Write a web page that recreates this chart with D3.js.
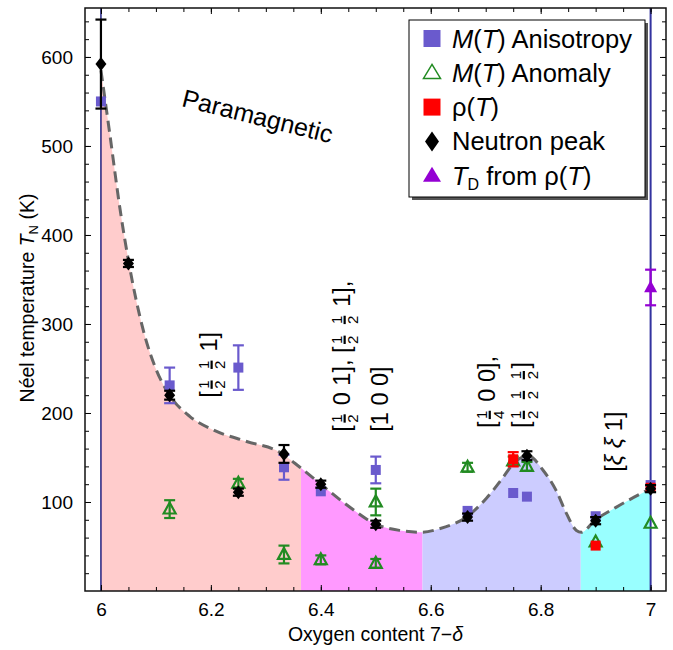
<!DOCTYPE html>
<html>
<head>
<meta charset="utf-8">
<script src="https://cdn.jsdelivr.net/npm/d3@7"></script>
<style>
  body { margin: 0; background: #fff; }
  text { font-family: "Liberation Sans", Arial, sans-serif; fill: #000; }
</style>
</head>
<body>
<svg id="chart"></svg>
<script>
// Neel temperature vs oxygen content

// neutron peak (black diamonds)
const neutronX = [6.0, 6.05, 6.125, 6.25, 6.333, 6.4, 6.5, 6.667, 6.775, 6.9, 7.0];
const neutronT = [592, 368, 220, 111, 154, 120, 75, 83, 152, 79, 115];
const neutronErr = [50, 4, 5, 4, 10, 4, 4, 4, 5, 4, 4];

// M(T) anisotropy (blue squares)
const anisoX = [6.0, 6.125, 6.25, 6.333, 6.4, 6.5, 6.667, 6.75, 6.775, 6.9, 7.0];
const anisoT = [550, 231, 251, 139, 112, 136, 90, 110, 106, 84, 119];
const anisoErr = [0, 20, 25, 14, 0, 15, 0, 0, 0, 0, 0];

// M(T) anomaly (open green triangles)
const anomalyX = [6.125, 6.25, 6.333, 6.4, 6.5, 6.5, 6.667, 6.75, 6.775, 6.9, 7.0];
const anomalyT = [92, 121, 41, 35, 100, 31, 139, 146, 140, 55, 76];
const anomalyErr = [10, 5, 10, 5, 15, 5, 5, 5, 5, 0, 0];

// rho(T) (red squares)
const rhoX = [6.75, 6.9, 7.0];
const rhoT = [148, 51, 116];
const rhoErr = [8, 0, 0];

// T_D from rho(T) (purple triangle)
const tdX = [7.0];
const tdT = [341];
const tdErr = [20];

// dashed guide curve
const curveX = [6.0, 6.016, 6.035, 6.051, 6.077, 6.101, 6.125, 6.162, 6.204, 6.265, 6.325, 6.362, 6.4,
                6.453, 6.5, 6.544, 6.583, 6.616, 6.669, 6.701, 6.732, 6.75, 6.777, 6.804, 6.828, 6.847,
                6.865, 6.874, 6.898, 6.937, 7.0];
const curveT = [585, 514, 428, 368, 293, 248, 220, 196, 181, 168, 156, 139, 120,
                94, 75, 68, 66, 70, 85, 104, 128, 143, 152, 136, 113, 87,
                68, 66, 79, 94, 115];

// coloured phase regions
const regionEdges = [6.0, 6.364, 6.585, 6.873, 7.0];

const xTicks = [6, 6.2, 6.4, 6.6, 6.8, 7];
const yTicks = [100, 200, 300, 400, 500, 600];

const regionColors = ["#ffcccc", "#ff99ff", "#ccccff", "#99ffff"];
const cBlue = "#6a5acd", cGreen = "#228b22", cRed = "#ff0000", cPurple = "#9400d3";

const width = 673, height = 650;
const svg = d3.select("#chart").attr("width", width).attr("height", height);

const x = d3.scaleLinear().domain([5.971, 7.028]).range([85, 666]);
const y = d3.scaleLinear().domain([0, 655]).range([591, 8]);

const pts = (xs, ts) => xs.map((v, i) => [v, ts[i]]);

// filled regions under the curve
const area = d3.area().x(d => x(d[0])).y0(y(0)).y1(d => y(d[1])).curve(d3.curveMonotoneX);
const line = d3.line().x(d => x(d[0])).y(d => y(d[1])).curve(d3.curveMonotoneX);
const curveData = pts(curveX, curveT);

const defs = svg.append("defs");
regionColors.forEach((c, i) => {
  defs.append("clipPath").attr("id", "reg" + i)
    .append("rect")
    .attr("x", x(regionEdges[i]))
    .attr("y", 0)
    .attr("width", x(regionEdges[i + 1]) - x(regionEdges[i]))
    .attr("height", height);
  svg.append("path").datum(curveData)
    .attr("d", area)
    .attr("fill", c)
    .attr("clip-path", `url(#reg${i})`);
});

// vertical lines at 6 and 7
svg.append("line").attr("x1", x(6)).attr("x2", x(6)).attr("y1", y.range()[1]).attr("y2", y.range()[0])
  .attr("stroke", "#000070").attr("stroke-width", 1.3);
svg.append("line").attr("x1", x(7)).attr("x2", x(7)).attr("y1", y.range()[1]).attr("y2", y.range()[0])
  .attr("stroke", "#3333a0").attr("stroke-width", 2);

svg.append("path").datum(curveData)
  .attr("d", line)
  .attr("fill", "none")
  .attr("stroke", "#666")
  .attr("stroke-width", 3)
  .attr("stroke-dasharray", "11,6");

// axes, ticks inside on all four sides
const xMinor = d3.range(6, 7.001, 0.05);
const yMinor = d3.range(20, 655, 20);

function addAxis(gen, scale, tr, majors, minors, labels) {
  svg.append("g").attr("transform", tr)
    .call(gen(scale).tickValues(minors).tickSize(-4).tickFormat(""))
    .call(g => g.select(".domain").remove());
  const g = svg.append("g").attr("transform", tr)
    .call(gen(scale).tickValues(majors).tickSize(-6).tickPadding(12)
      .tickFormat(labels ? d3.format("") : ""));
  g.select(".domain").remove();
  g.selectAll("text").attr("font-size", 19).attr("font-family", "Liberation Sans, Arial, sans-serif");
  g.selectAll("line").attr("stroke", "#000");
}
addAxis(d3.axisBottom, x, `translate(0,${y(0)})`, xTicks, xMinor, true);
addAxis(d3.axisTop, x, `translate(0,${y.range()[1]})`, xTicks, xMinor, false);
addAxis(d3.axisLeft, y, `translate(${x.range()[0]},0)`, yTicks, yMinor, true);
addAxis(d3.axisRight, y, `translate(${x.range()[1]},0)`, yTicks, yMinor, false);

svg.append("rect")
  .attr("x", x.range()[0]).attr("y", y.range()[1])
  .attr("width", x.range()[1] - x.range()[0]).attr("height", y.range()[0] - y.range()[1])
  .attr("fill", "none").attr("stroke", "#111").attr("stroke-width", 1.5);

// axis titles
const xt = svg.append("text").attr("x", (x.range()[0] + x.range()[1]) / 2).attr("y", 641)
  .attr("text-anchor", "middle").attr("font-size", 19.5);
xt.append("tspan").text("Oxygen content 7\u2212");
xt.append("tspan").attr("font-style", "italic").text("\u03b4");

const yt = svg.append("text").attr("transform", "translate(34,298) rotate(-90)")
  .attr("text-anchor", "middle").attr("font-size", 19.5);
yt.append("tspan").text("N\u00e9el temperature ");
yt.append("tspan").attr("font-style", "italic").text("T");
yt.append("tspan").attr("font-size", 13).attr("dy", 4).text("N");
yt.append("tspan").attr("dy", -4).text(" (K)");

// error bars
function errorBars(xs, ts, errs, color) {
  xs.forEach((v, i) => {
    if (!errs[i]) return;
    const cx = x(v), y1 = y(ts[i] + errs[i]), y2 = y(ts[i] - errs[i]);
    const g = svg.append("g").attr("stroke", color).attr("stroke-width", 2.2);
    g.append("line").attr("x1", cx).attr("x2", cx).attr("y1", y1).attr("y2", y2);
    g.append("line").attr("x1", cx - 5.5).attr("x2", cx + 5.5).attr("y1", y1).attr("y2", y1);
    g.append("line").attr("x1", cx - 5.5).attr("x2", cx + 5.5).attr("y1", y2).attr("y2", y2);
  });
}

const squarePath = (cx, cy, s) => `M${cx - s / 2},${cy - s / 2}h${s}v${s}h${-s}Z`;
const diamondPath = (cx, cy, w, h) => `M${cx},${cy - h / 2}L${cx + w / 2},${cy}L${cx},${cy + h / 2}L${cx - w / 2},${cy}Z`;
const triPath = (cx, cy, w, h) => `M${cx},${cy - h * 0.6}L${cx + w / 2},${cy + h * 0.4}L${cx - w / 2},${cy + h * 0.4}Z`;

// M(T) anisotropy
errorBars(anisoX, anisoT, anisoErr, cBlue);
svg.append("g").selectAll("path").data(pts(anisoX, anisoT)).join("path")
  .attr("d", d => squarePath(x(d[0]), y(d[1]), 10)).attr("fill", cBlue);

// M(T) anomaly
errorBars(anomalyX, anomalyT, anomalyErr, cGreen);
svg.append("g").selectAll("path").data(pts(anomalyX, anomalyT)).join("path")
  .attr("d", d => triPath(x(d[0]), y(d[1]), 12, 11))
  .attr("fill", "none").attr("stroke", cGreen).attr("stroke-width", 2.2);

// rho(T)
errorBars(rhoX, rhoT, rhoErr, cRed);
svg.append("g").selectAll("path").data(pts(rhoX, rhoT)).join("path")
  .attr("d", d => squarePath(x(d[0]), y(d[1]), 10)).attr("fill", cRed);

// neutron peak
errorBars(neutronX, neutronT, neutronErr, "#000");
svg.append("g").selectAll("path").data(pts(neutronX, neutronT)).join("path")
  .attr("d", d => diamondPath(x(d[0]), y(d[1]), 11, 14)).attr("fill", "#000");

// T_D from rho(T)
errorBars(tdX, tdT, tdErr, cPurple);
svg.append("g").selectAll("path").data(pts(tdX, tdT)).join("path")
  .attr("d", d => triPath(x(d[0]), y(d[1]), 13, 12)).attr("fill", cPurple);

// rotated wave-vector labels, built from text and small stacked fractions
function F(n, d) { return {n: n, d: d}; }
function I(t) { return {it: t}; }
function rotLabel(xv, tv, tokens) {
  const g = svg.append("g").attr("transform", `translate(${x(xv)},${y(tv)}) rotate(-90)`);
  let pos = 0;
  tokens.forEach(t => {
    if (typeof t === "string" || t.it) {
      const el = g.append("text").attr("x", pos).attr("y", 0).attr("font-size", 23.5)
        .style("white-space", "pre").attr("xml:space", "preserve")
        .text(typeof t === "string" ? t : t.it);
      if (t.it) el.attr("font-style", "italic");
      pos += el.node().getComputedTextLength();
    } else {
      const p = pos + 2.5;
      const a = g.append("text").attr("x", p).attr("y", -8).attr("font-size", 15).text(t.n);
      const b = g.append("text").attr("x", p).attr("y", 8.5).attr("font-size", 15).text(t.d);
      const w = Math.max(a.node().getComputedTextLength(), b.node().getComputedTextLength());
      g.append("rect").attr("x", p).attr("y", -6.4).attr("width", w).attr("height", 2.2).attr("fill", "#000");
      pos = p + w + 2.5;
    }
  });
}

rotLabel(6.211, 217, ["[", F(1, 2), " ", F(1, 2), " 1", "]"]);
rotLabel(6.453, 179, ["[", F(1, 2), " 0 1], [", F(1, 2), " ", F(1, 2), " 1],"]);
rotLabel(6.522, 179, ["[1 0 0]"]);
rotLabel(6.717, 183, ["[", F(1, 4), " 0 0],"]);
rotLabel(6.779, 183, ["[", F(1, 2), " ", F(1, 2), " ", F(1, 2), "]"]);
rotLabel(6.948, 134, ["[", I("\u03be"), " ", I("\u03be"), " 1]"]);

svg.append("text")
  .attr("transform", `translate(${x(6.145)},${y(545)}) rotate(14)`)
  .attr("font-size", 25)
  .text("Paramagnetic");

// legend
const legend = svg.append("g").attr("transform", "translate(409,20)");
legend.append("rect").attr("x", 3).attr("y", 3).attr("width", 236).attr("height", 177).attr("fill", "#555");
legend.append("rect").attr("width", 236).attr("height", 177).attr("fill", "#fff")
  .attr("stroke", "#000").attr("stroke-width", 1);

const legendRows = [
  [["M", "i"], ["(", ""], ["T", "i"], [") Anisotropy", ""]],
  [["M", "i"], ["(", ""], ["T", "i"], [") Anomaly", ""]],
  [["\u03c1(", ""], ["T", "i"], [")", ""]],
  [["Neutron peak", ""]],
  [["T", "i"], ["D", "s"], [" from \u03c1(", ""], ["T", "i"], [")", ""]]
];
const legendSym = [
  cy => legend.append("path").attr("d", squarePath(23, cy, 17)).attr("fill", cBlue),
  cy => legend.append("path").attr("d", triPath(23, cy, 17, 14)).attr("fill", "none").attr("stroke", cGreen).attr("stroke-width", 1.5),
  cy => legend.append("path").attr("d", squarePath(23, cy, 17)).attr("fill", cRed),
  cy => legend.append("path").attr("d", diamondPath(23, cy, 14, 20)).attr("fill", "#000"),
  cy => legend.append("path").attr("d", triPath(23, cy, 18, 15)).attr("fill", cPurple)
];

legendRows.forEach((row, i) => {
  const cy = 18.5 + i * 34.3;
  legendSym[i](cy);
  const t = legend.append("text").attr("x", 43).attr("y", cy + 9).attr("font-size", 25.5)
    .attr("xml:space", "preserve");
  let shifted = false;
  row.forEach(([s, st]) => {
    const sp = t.append("tspan").text(s);
    if (st === "i") sp.attr("font-style", "italic");
    if (st === "s") { sp.attr("font-size", 16).attr("dy", 5); shifted = true; }
    else if (shifted) { sp.attr("dy", -5); shifted = false; }
  });
});
</script>
</body>
</html>
